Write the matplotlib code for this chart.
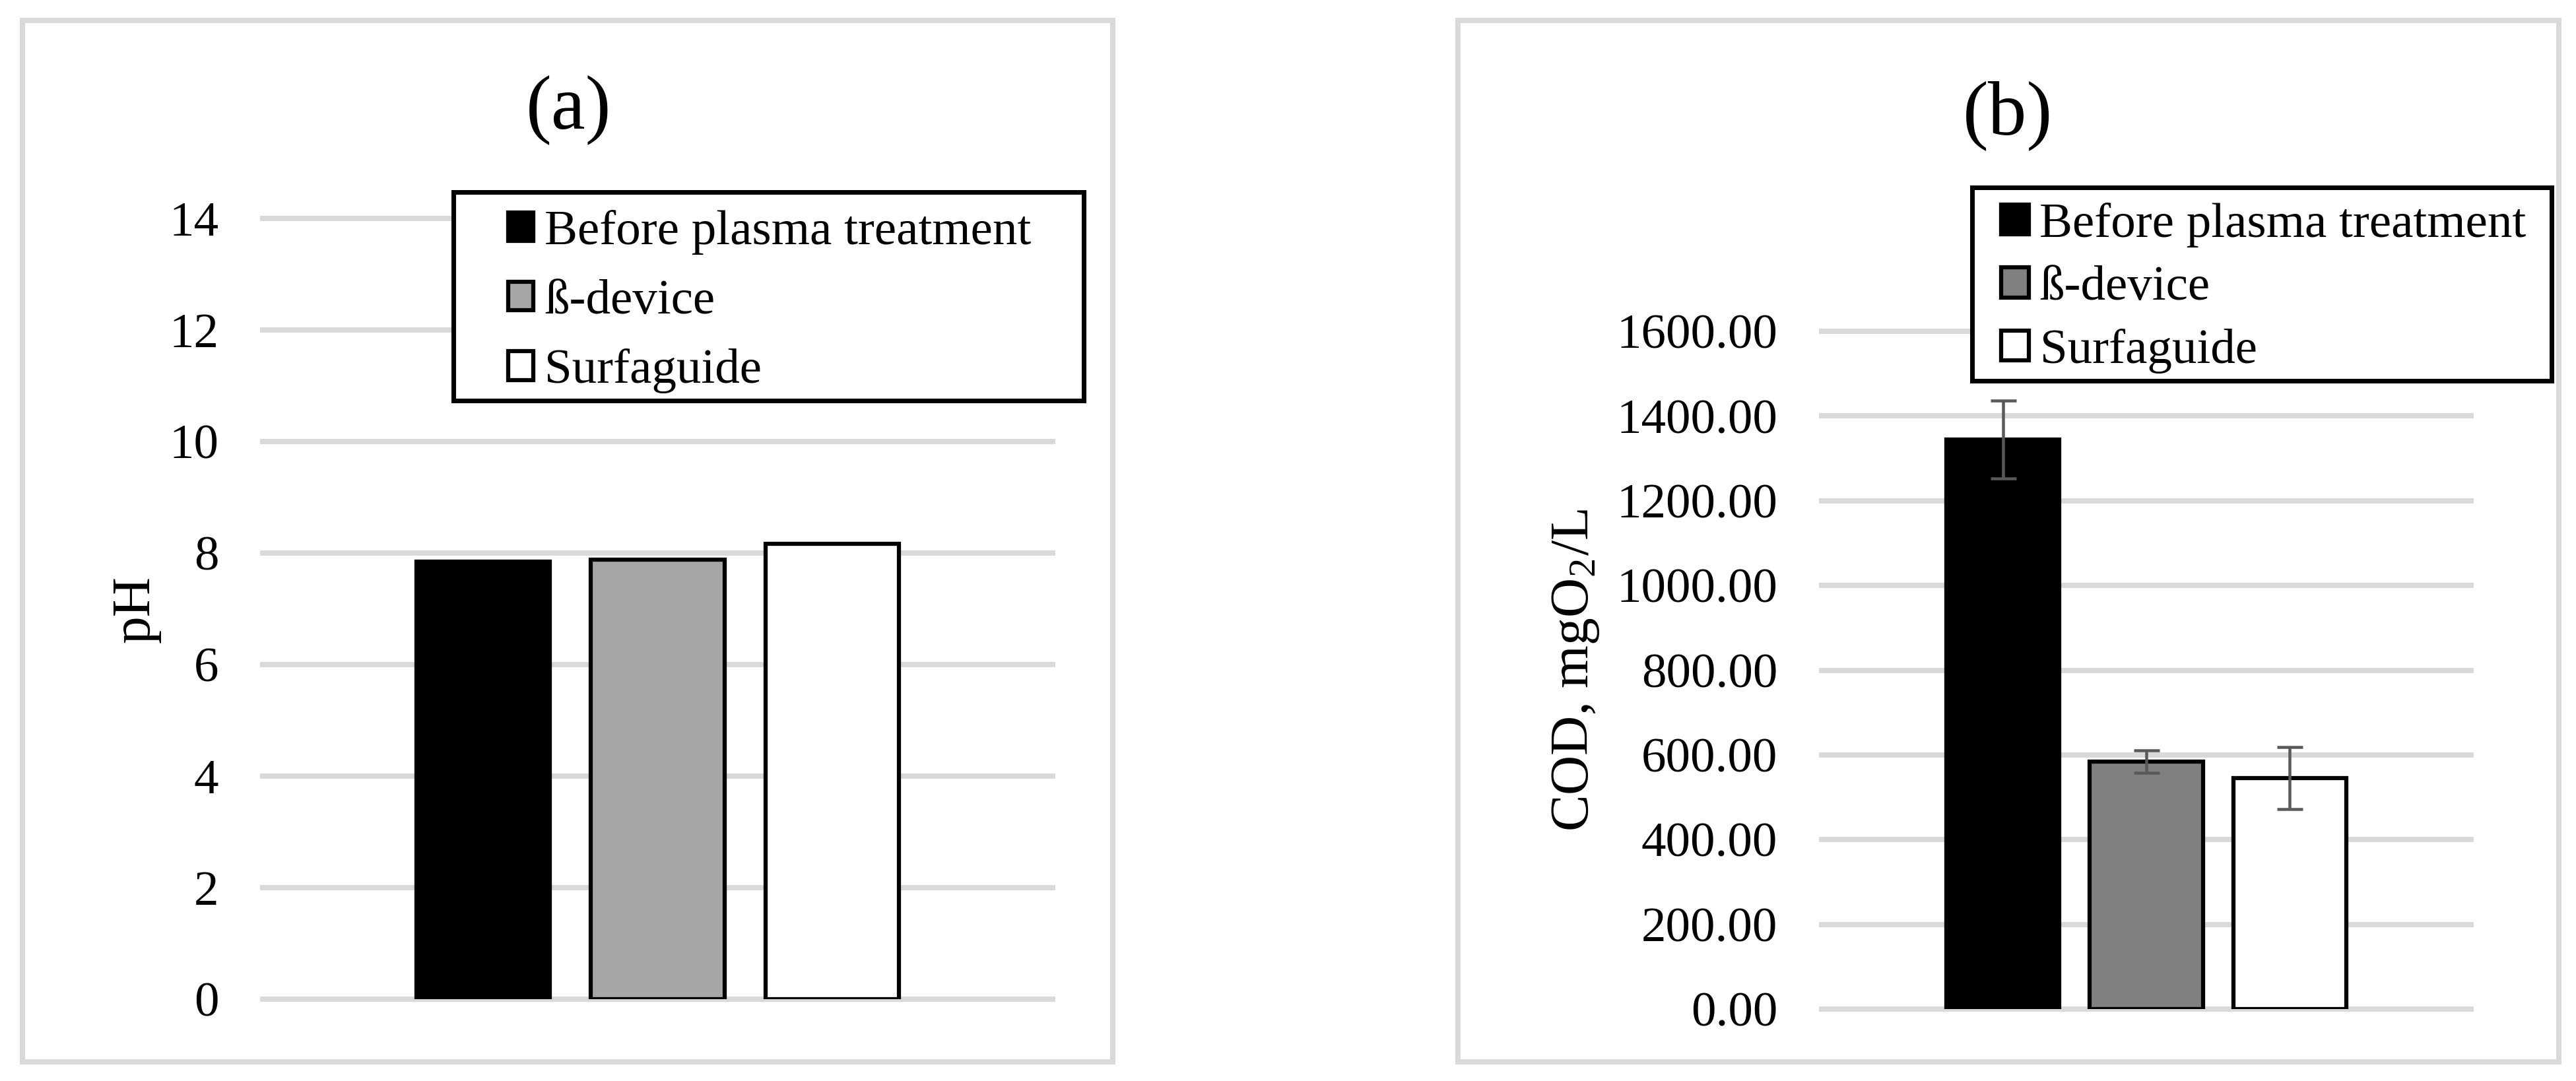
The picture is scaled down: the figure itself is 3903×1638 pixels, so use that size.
import matplotlib
matplotlib.use("Agg")
import matplotlib.pyplot as plt
from matplotlib.patches import Rectangle

plt.rcParams['font.family'] = ['Liberation Serif', 'DejaVu Serif']
plt.rcParams['mathtext.fontset'] = 'stix'

# ---------------- data ----------------
series = ["Before plasma treatment", "ß-device", "Surfaguide"]
ph_values = [7.85, 7.88, 8.16]
cod_values = [1345.0, 584.0, 545.0]
cod_errors = [92.0, 26.0, 73.0]
ph_ticks = [0, 2, 4, 6, 8, 10, 12, 14]
cod_ticks = [0, 200, 400, 600, 800, 1000, 1200, 1400, 1600]

colors_a = ["#000000", "#a6a6a6", "#ffffff"]
colors_b = ["#000000", "#808080", "#ffffff"]

W, H = 3903, 1638
DPI = 100
fig = plt.figure(figsize=(W / DPI, H / DPI), dpi=DPI)
PT = 72.0 / DPI  # points per pixel


def box(x0, y0, x1, y1):
    return [x0 / W, 1 - y1 / H, (x1 - x0) / W, (y1 - y0) / H]


def frame(x0, y0, x1, y1, color, lw_px, z, fill=False):
    fig.patches.append(Rectangle((x0 / W, 1 - y1 / H), (x1 - x0) / W, (y1 - y0) / H,
                                 transform=fig.transFigure, fill=fill,
                                 facecolor="white", edgecolor=color,
                                 linewidth=lw_px * PT, zorder=z))


GRID = "#d9d9d9"
TICK_FS = 54
LEG_FS = 54

# outer chart frames
frame(34, 31, 1686, 1609, GRID, 8, 1)
frame(2209, 31, 3877, 1609, GRID, 8, 1)


def setup(ax, ticks, ylim, fmt):
    ax.set_xlim(-0.5, 0.5)
    ax.set_ylim(*ylim)
    for s in ax.spines.values():
        s.set_visible(False)
    ax.set_xticks([])
    ax.set_yticks(ticks)
    ax.set_yticklabels([fmt.format(t) for t in ticks])
    ax.tick_params(axis='y', length=0, pad=48, labelsize=TICK_FS)
    for t in ticks:
        ax.axhline(t, color=GRID, linewidth=8 * PT, zorder=0, clip_on=False)
    ax.patch.set_visible(False)


offset = 0.221

# ---------------- panel (a) ----------------
axa = fig.add_axes(box(398, 331, 1595, 1514))
setup(axa, ph_ticks, (0, 14), "{:d}")
bars_a = []
for i, (name, v) in enumerate(zip(series, ph_values)):
    b = axa.bar((i - 1) * offset, v, width=0.169, color=colors_a[i],
                edgecolor="black", linewidth=6.25 * PT, label=name, zorder=2)
    bars_a.append(b)
fig.text(862 / W, 1 - 166 / H, "(a)", ha="center", va="center", fontsize=84)
fig.text(206 / W, 1 - 923 / H, "pH", ha="center", va="center", rotation=90, fontsize=60)

frame(687, 291, 1642, 607, "black", 7, 4, fill=True)
fig.legend(handles=bars_a, labels=series, loc="upper left",
           bbox_to_anchor=(770 / W, 1 - 318 / H),
           fontsize=LEG_FS, frameon=False, handlelength=0.51, handleheight=0.51,
           handletextpad=0.22, labelspacing=0.5, borderpad=0, borderaxespad=0)

# ---------------- panel (b) ----------------
axb = fig.add_axes(box(2760, 502, 3744, 1529))
setup(axb, cod_ticks, (0, 1600), "{:.2f}")
bars_b = []
for i, (name, v, e) in enumerate(zip(series, cod_values, cod_errors)):
    b = axb.bar((i - 1) * offset, v, width=0.174, color=colors_b[i],
                edgecolor="black", linewidth=6.25 * PT, label=name, zorder=2)
    bars_b.append(b)
    axb.errorbar((i - 1) * offset, v, yerr=e, fmt="none", ecolor="#595959",
                 elinewidth=4.5 * PT, capsize=19.5 * PT, capthick=4.5 * PT, zorder=3)
fig.text(3042 / W, 1 - 175 / H, "(b)", ha="center", va="center", fontsize=84)
fig.text(2387 / W, 1 - 1015 / H, r"COD, mgO$_\mathregular{2}$/L", ha="center", va="center",
         rotation=90, fontsize=60)

frame(2988, 284, 3866, 577, "black", 7, 4, fill=True)
fig.legend(handles=bars_b, labels=series, loc="upper left",
           bbox_to_anchor=(3032 / W, 1 - 307 / H),
           fontsize=LEG_FS, frameon=False, handlelength=0.56, handleheight=0.56,
           handletextpad=0.22, labelspacing=0.37, borderpad=0, borderaxespad=0)

fig.savefig("out.png", dpi=DPI, facecolor="white")
